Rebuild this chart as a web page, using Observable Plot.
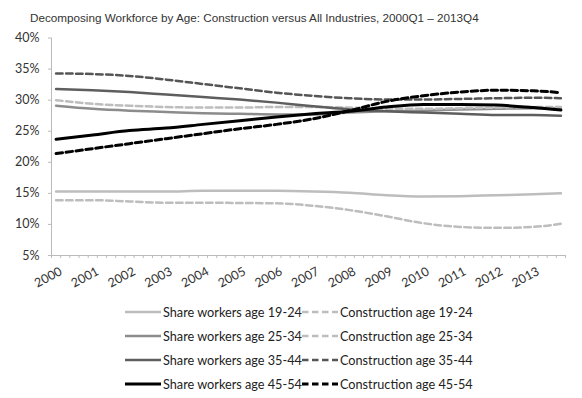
<!DOCTYPE html>
<html>
<head>
<meta charset="utf-8">
<script src="https://cdn.jsdelivr.net/npm/d3@7"></script>
<script src="https://cdn.jsdelivr.net/npm/@observablehq/plot@0.6"></script>
<style>
  body { margin: 0; background: #fff; width: 582px; height: 398px; overflow: hidden; position: relative; }
  #title { position: absolute; left: 30px; top: 11px; font: 11.7px "Liberation Sans", Arial, sans-serif; color: #333; white-space: nowrap; }
  #chart { position: absolute; left: 0; top: 28px; }
  .lg { position: absolute; font: 12.7px Lato, sans-serif; color: #222; white-space: nowrap; line-height: 16px; }
  .sw { position: absolute; }
</style>
</head>
<body>
<div id="title">Decomposing Workforce by Age: Construction versus All Industries, 2000Q1 – 2013Q4</div>
<div id="chart"></div>
<div id="legend"></div>
<script>
// Sampled periods (Q1 of each year, plus the final quarter)
const periods = ["2000Q1","2001Q1","2002Q1","2003Q1","2004Q1","2005Q1","2006Q1","2007Q1",
                 "2008Q1","2009Q1","2010Q1","2011Q1","2012Q1","2013Q1","2013Q4"];
// Year tick labels
const yearLabels = ["2000","2001","2002","2003","2004","2005","2006","2007",
                    "2008","2009","2010","2011","2012","2013"];
const yTicks = [0.05, 0.10, 0.15, 0.20, 0.25, 0.30, 0.35, 0.40];

// Shares (%)
const share1924  = [15.3,15.3,15.3,15.3,15.4,15.4,15.4,15.3,15.1,14.7,14.5,14.55,14.7,14.85,15.0];
const constr1924 = [13.9,13.9,13.7,13.5,13.5,13.45,13.4,13.0,12.3,11.3,10.2,9.6,9.45,9.6,10.1];
const share2534  = [29.1,28.6,28.3,28.1,27.9,27.8,27.7,27.7,28.0,28.2,28.3,28.5,28.6,28.7,28.7];
const constr2534 = [30.0,29.4,29.1,28.9,28.8,28.8,28.9,28.9,28.8,28.6,28.6,28.7,28.8,28.9,28.9];
const share3544  = [31.8,31.6,31.3,30.9,30.5,30.1,29.6,29.0,28.5,28.2,28.0,27.8,27.6,27.6,27.5];
const constr3544 = [34.3,34.2,33.9,33.3,32.6,31.9,31.2,30.7,30.3,30.1,30.1,30.2,30.3,30.4,30.3];
const share4554  = [23.7,24.4,25.1,25.5,26.1,26.7,27.3,27.8,28.2,28.9,29.3,29.3,29.2,28.8,28.4];
const constr4554 = [21.4,22.2,23.0,23.8,24.6,25.4,26.1,27.0,28.3,29.8,30.7,31.3,31.6,31.5,31.2];

const seriesNames = ["Share workers age 19-24","Construction age 19-24",
                     "Share workers age 25-34","Construction age 25-34",
                     "Share workers age 35-44","Construction age 35-44",
                     "Share workers age 45-54","Construction age 45-54"];
const seriesValues = [share1924, constr1924, share2534, constr2534, share3544, constr3544, share4554, constr4554];
const seriesColors = ["#bdbdbd","#bdbdbd","#8c8c8c","#bdbdbd","#5e5e5e","#555555","#000000","#000000"];
const seriesDash   = [null,"6.5,3.5",null,"6.5,3.5",null,"6.5,3.5",null,"6.5,3.5"];
const seriesWidth  = [2.5,2.5,2.5,2.5,2.5,2.5,3,3];

const qIdx = p => (+p.slice(0,4) - 2000) * 4 + (+p.slice(5) - 1);

const marks = [];
seriesNames.forEach((name, s) => {
  const data = periods.map((p, i) => ({q: qIdx(p), v: seriesValues[s][i] / 100}));
  marks.push(Plot.line(data, {
    x: "q", y: "v", stroke: seriesColors[s], strokeWidth: seriesWidth[s],
    strokeDasharray: seriesDash[s] || undefined, curve: "monotone-x"
  }));
});

const boundaries = d3.range(-0.5, 56, 1);
const yearIdx = yearLabels.map(y => (+y - 2000) * 4);

const chart = Plot.plot({
  width: 582,
  height: 270,
  marginLeft: 51,
  marginRight: 17,
  marginTop: 9.5,
  marginBottom: 43,
  style: {fontFamily: "Lato, sans-serif", fontSize: "12px", color: "#333", background: "#fff"},
  x: {domain: [-0.5, 55.5]},
  y: {domain: [0.05, 0.40]},
  marks: [
    Plot.axisY({ticks: yTicks, tickFormat: d3.format(".0%"), tickSize: 3, tickPadding: 9, stroke: "#bbb", label: null, fontSize: 12.5}),
    Plot.ruleX([-0.5], {stroke: "#bbb"}),
    Plot.ruleY([0.05], {stroke: "#bbb"}),
    Plot.axisX({ticks: boundaries, tickSize: 3, tickFormat: () => "", stroke: "#bbb", label: null}),
    Plot.axisX({ticks: yearIdx, tickSize: 0, tickRotate: -28, tickPadding: 10, dx: 5, dy: 5,
                tickFormat: (d, i) => yearLabels[i], label: null, fontSize: 12.5}),
    ...marks
  ]
});
document.getElementById("chart").appendChild(chart);

// Legend
const legend = document.getElementById("legend");
const rowsTop = [312, 336, 360, 384];
for (let r = 0; r < 4; r++) {
  for (let c = 0; c < 2; c++) {
    const s = r * 2 + c;
    const sx = c === 0 ? 125 : 302;
    const tx = c === 0 ? 163 : 340;
    const cy = rowsTop[r];
    const sw = document.createElementNS("http://www.w3.org/2000/svg", "svg");
    sw.setAttribute("class", "sw");
    sw.setAttribute("width", 36); sw.setAttribute("height", 6);
    sw.style.left = sx + "px"; sw.style.top = (cy - 3) + "px";
    const ln = document.createElementNS("http://www.w3.org/2000/svg", "line");
    ln.setAttribute("x1", 0); ln.setAttribute("x2", 36); ln.setAttribute("y1", 3); ln.setAttribute("y2", 3);
    ln.setAttribute("stroke", seriesColors[s]); ln.setAttribute("stroke-width", seriesWidth[s]);
    if (seriesDash[s]) ln.setAttribute("stroke-dasharray", seriesDash[s]);
    sw.appendChild(ln);
    legend.appendChild(sw);
    const t = document.createElement("div");
    t.className = "lg"; t.textContent = seriesNames[s];
    t.style.left = tx + "px"; t.style.top = (cy - 8) + "px";
    legend.appendChild(t);
  }
}
</script>
</body>
</html>
